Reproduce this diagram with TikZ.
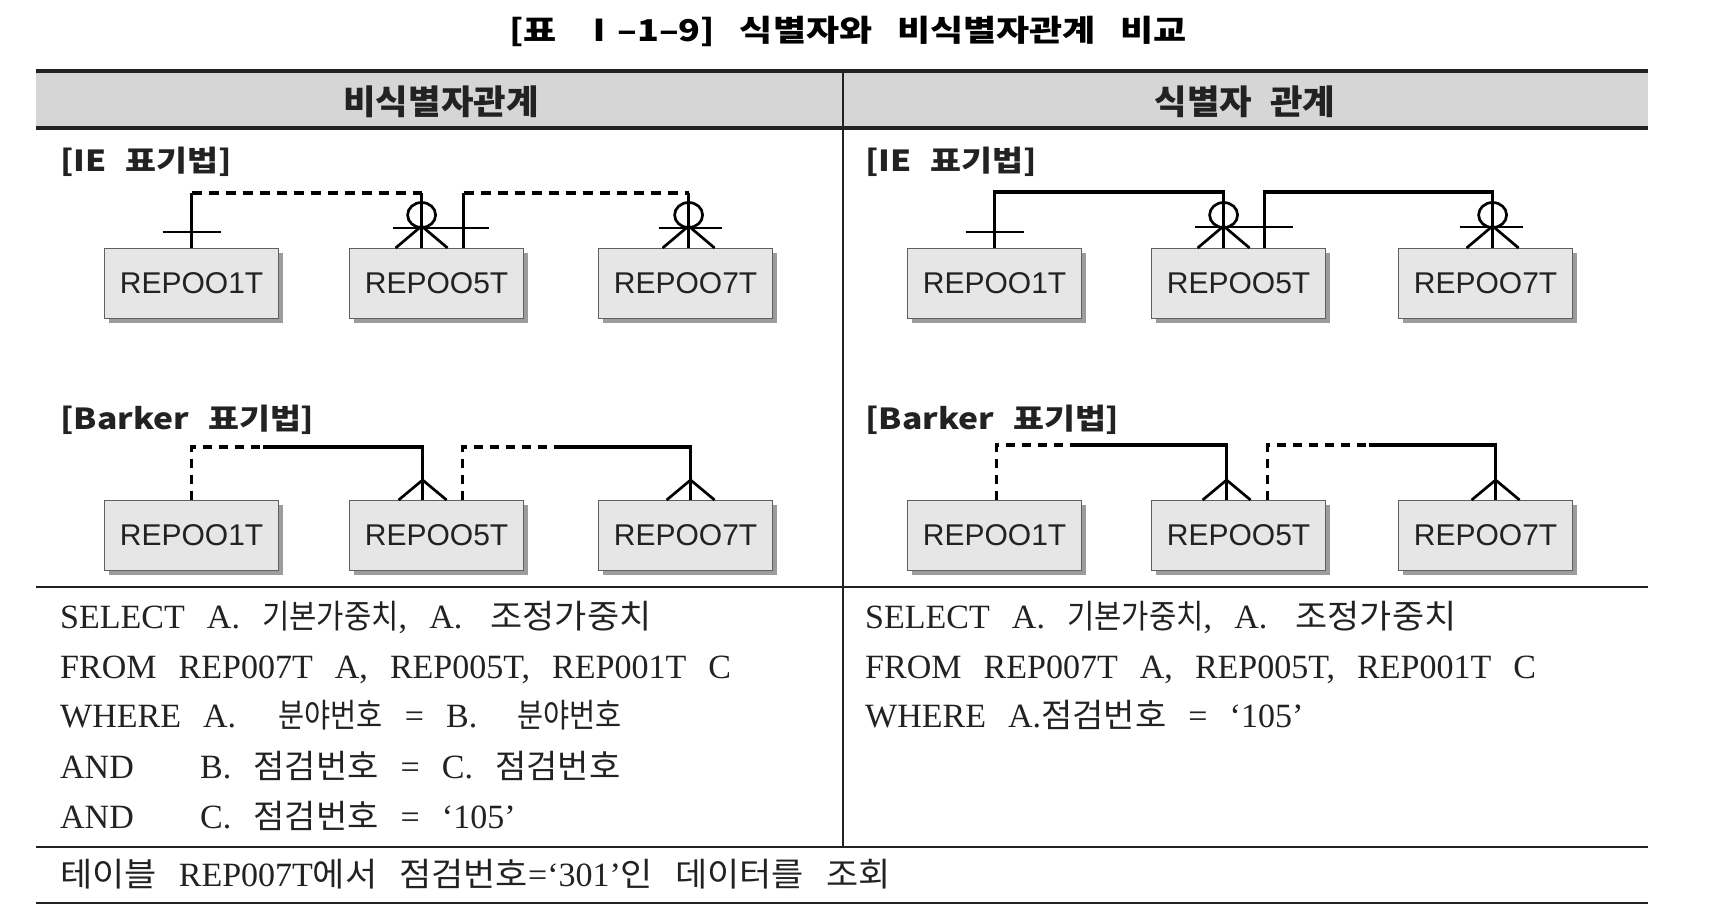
\documentclass[tikz,border=0pt]{standalone}
\usepackage{fontspec}
\setmainfont{Liberation Serif}[WordSpace=2.6]
\newfontfamily\krtitle{Noto Sans CJK KR}[FakeStretch=1.2,WordSpace=3]
\newfontfamily\krhead{Noto Sans CJK KR}[FakeStretch=1.04,WordSpace=2.2]
\newfontfamily\krlab{Noto Sans CJK KR}[FakeStretch=1.16,WordSpace=2.5]
\newfontfamily\krsql{Noto Sans CJK KR}[FakeStretch=0.9]
\newfontfamily\krnar{Noto Sans CJK KR}[FakeStretch=0.86]
\newfontfamily\krwid{Noto Sans CJK KR}[FakeStretch=1.03]
\newfontfamily\krbot{Noto Sans CJK KR}[FakeStretch=1.06]
\newfontfamily\boxfont{Liberation Sans}
\usetikzlibrary{calc,shadows}
\newcommand\kor[1]{{\krsql\fontsize{33}{38}\selectfont #1}}
\newcommand\korn[1]{{\krnar\fontsize{33}{38}\selectfont #1}}
\newcommand\korw[1]{{\krwid\fontsize{33}{38}\selectfont #1}}
\newcommand\korb[1]{{\krbot\fontsize{33}{38}\selectfont #1}}
\definecolor{hdrgray}{HTML}{D6D6D6}
\definecolor{boxgray}{HTML}{E6E6E6}
\definecolor{boxline}{HTML}{606060}
\definecolor{shad}{HTML}{9C9C9C}
\definecolor{ink}{HTML}{222222}
\begin{document}
\begin{tikzpicture}[x=1pt,y=-1pt,
  tline/.style={line width=3.2pt,draw=ink},
  conn/.style={line width=3.3pt,draw=black},
  thin/.style={line width=2.7pt,draw=black},
  dashIE/.style={dash pattern=on 10pt off 7pt},
  dashB/.style={dash pattern=on 9pt off 7pt},
  ebox/.style={draw=boxline,line width=1.2pt,fill=boxgray,
    minimum width=174pt,minimum height=70pt,anchor=north west,inner sep=0pt,
    font=\boxfont\fontsize{30}{34}\selectfont,text=ink,
    drop shadow={shadow xshift=4pt,shadow yshift=-4pt,fill=shad,opacity=1}},
  lab/.style={anchor=west,inner sep=0pt,text=ink,font=\krlab\bfseries\fontsize{29}{34}\selectfont},
  sql/.style={anchor=base west,inner sep=0pt,text=ink,font=\fontsize{34}{40}\selectfont},
  hdtext/.style={inner sep=0pt,text=ink,font=\krhead\bfseries\fontsize{34}{40}\selectfont},
  crowO/.pic={
    \draw[thin] (0,-33) ellipse[x radius=14,y radius=12.5];
    \draw[thin] (-26,0) -- (0,-22) -- (26,0);
  },
  crowB/.pic={
    \draw[thin] (-24,0) -- (0,-20) -- (24,0);
  }]
\useasboundingbox (0,0) rectangle (1722,922);
\fill[white] (0,0) rectangle (1722,922);

% title
\node[inner sep=0pt,text=black,font=\krtitle\bfseries\fontsize{30}{36}\selectfont] (title) at (848,31) {[표 Ⅰ–1–9] 식별자와 비식별자관계 비교};

% table frame
\fill[hdrgray] (36,71) rectangle (1648,128);
\draw[tline,line width=3.8pt] (36,71) -- (1648,71);
\draw[tline] (36,128) -- (1648,128);
\draw[tline,line width=2.8pt] (36,587) -- (1648,587);
\draw[tline,line width=2.8pt] (36,847) -- (1648,847);
\draw[tline,line width=2.8pt] (36,903) -- (1648,903);
\draw[ink,line width=2.4pt] (843,71) -- (843,847);

\node[hdtext] (h1) at (441,102) {비식별자관계};
\node[hdtext] (h2) at (1245,102) {식별자 관계};

% ---------- left panel ----------
\node[lab] (l1) at (60,162) {[IE 표기법]};
\node[lab] (l2) at (60,420) {[Barker 표기법]};

\node[ebox] (a1) at (104,248) {REPOO1T};
\node[ebox] (a2) at (349,248) {REPOO5T};
\node[ebox] (a3) at (598,248) {REPOO7T};

\coordinate (ta1) at ($(a1.north)+(0,-55)$);
\coordinate (ca2) at ($(a2.north)+(-15,0)$);
\coordinate (ta2) at ($(ca2)+(0,-55)$);
\coordinate (va2) at ($(a2.north)+(27,0)$);
\coordinate (ta3) at ($(va2)+(0,-55)$);
\coordinate (ca3) at ($(a3.north)+(3,0)$);
\coordinate (ta4) at ($(ca3)+(0,-55)$);
\draw[conn] (a1.north) -- (ta1);
\draw[conn,dashIE] (ta1) -- (ta2);
\draw[conn] (ta2) -- (ca2);
\draw[conn] (va2) -- (ta3);
\draw[conn,dashIE] (ta3) -- (ta4);
\draw[conn] (ta4) -- (ca3);
\draw[thin] ($(a1.north)+(-29,-16)$) -- ($(a1.north)+(29,-16)$);
\draw[thin] ($(ca2)+(-29,-20)$) -- ($(va2)+(25,-20)$);
\draw[thin] ($(ca3)+(-30,-20)$) -- ($(ca3)+(33,-20)$);
\pic at (ca2) {crowO};
\pic at (ca3) {crowO};

\node[ebox] (b1) at (104,500) {REPOO1T};
\node[ebox] (b2) at (349,500) {REPOO5T};
\node[ebox] (b3) at (598,500) {REPOO7T};

\coordinate (sb1) at ($(b1.north)+(0,-53)$);
\coordinate (mb1) at ($(sb1)+(71,0)$);
\coordinate (cb2) at ($(b2.north)+(-14,0)$);
\coordinate (tb2) at ($(cb2)+(0,-53)$);
\coordinate (vb2) at ($(b2.north)+(26,0)$);
\coordinate (sb2) at ($(vb2)+(0,-53)$);
\coordinate (mb2) at ($(sb2)+(98,0)$);
\coordinate (cb3) at ($(b3.north)+(5,0)$);
\coordinate (tb3) at ($(cb3)+(0,-53)$);
\draw[conn,dashB] (b1.north) -- (sb1) -- (mb1);
\draw[conn] (mb1) -- (tb2) -- (cb2);
\draw[conn,dashB] (vb2) -- (sb2) -- (mb2);
\draw[conn] (mb2) -- (tb3) -- (cb3);
\pic at (cb2) {crowB};
\pic at (cb3) {crowB};

\node[sql] (s1) at (60,628) {SELECT A. \kor{기본가중치}, A.\hspace{6pt} \korb{조정가중치}};
\node[sql] (s2) at (60,678) {FROM REP007T A, REP005T, REP001T C};
\node[sql] (s3) at (60,727) {WHERE A.\hspace{20pt} \korn{분야번호} = B.\hspace{18pt} \korn{분야번호}};
\node[sql] (s4) at (60,778) {\makebox[140pt][l]{AND}B. \korw{점검번호} = C. \korw{점검번호}};
\node[sql] (s5) at (60,828) {\makebox[140pt][l]{AND}C. \korw{점검번호} = ‘105’};

\node[sql] (s6) at (60,886) {\korb{테이블} REP007T\korb{에서} \korb{점검번호}=‘301’\korb{인} \korb{데이터를} \korb{조회}};

% ---------- right panel ----------
\node[lab] (r1) at (865,162) {[IE 표기법]};
\node[lab] (r2) at (865,420) {[Barker 표기법]};

\node[ebox] (d1) at (907,248) {REPOO1T};
\node[ebox] (d2) at (1151,248) {REPOO5T};
\node[ebox] (d3) at (1398,248) {REPOO7T};

\coordinate (td1) at ($(d1.north)+(0,-56)$);
\coordinate (cd2) at ($(d2.north)+(-15,0)$);
\coordinate (td2) at ($(cd2)+(0,-56)$);
\coordinate (vd2) at ($(d2.north)+(26,0)$);
\coordinate (td3) at ($(vd2)+(0,-56)$);
\coordinate (cd3) at ($(d3.north)+(7,0)$);
\coordinate (td4) at ($(cd3)+(0,-56)$);
\draw[conn] (d1.north) -- (td1) -- (td2) -- (cd2);
\draw[conn] (vd2) -- (td3) -- (td4) -- (cd3);
\draw[thin] ($(d1.north)+(-29,-16)$) -- ($(d1.north)+(29,-16)$);
\draw[thin] ($(cd2)+(-29,-21)$) -- ($(vd2)+(28,-21)$);
\draw[thin] ($(cd3)+(-33,-21)$) -- ($(cd3)+(30,-21)$);
\pic at (cd2) {crowO};
\pic at (cd3) {crowO};

\node[ebox] (e1) at (907,500) {REPOO1T};
\node[ebox] (e2) at (1151,500) {REPOO5T};
\node[ebox] (e3) at (1398,500) {REPOO7T};

\coordinate (se1) at ($(e1.north)+(2,-55)$);
\coordinate (be1) at ($(e1.north)+(2,0)$);
\coordinate (me1) at ($(se1)+(81,0)$);
\coordinate (ce2) at ($(e2.north)+(-12,0)$);
\coordinate (te2) at ($(ce2)+(0,-55)$);
\coordinate (ve2) at ($(e2.north)+(29,0)$);
\coordinate (se2) at ($(ve2)+(0,-55)$);
\coordinate (me2) at ($(se2)+(101,0)$);
\coordinate (ce3) at ($(e3.north)+(10,0)$);
\coordinate (te3) at ($(ce3)+(0,-55)$);
\draw[conn,dashB] (be1) -- (se1) -- (me1);
\draw[conn] (me1) -- (te2) -- (ce2);
\draw[conn,dashB] (ve2) -- (se2) -- (me2);
\draw[conn] (me2) -- (te3) -- (ce3);
\pic at (ce2) {crowB};
\pic at (ce3) {crowB};

\node[sql] (u1) at (865,628) {SELECT A. \kor{기본가중치}, A.\hspace{6pt} \korb{조정가중치}};
\node[sql] (u2) at (865,678) {FROM REP007T A, REP005T, REP001T C};
\node[sql] (u3) at (865,727) {WHERE A.\korw{점검번호} = ‘105’};
\end{tikzpicture}
\end{document}
